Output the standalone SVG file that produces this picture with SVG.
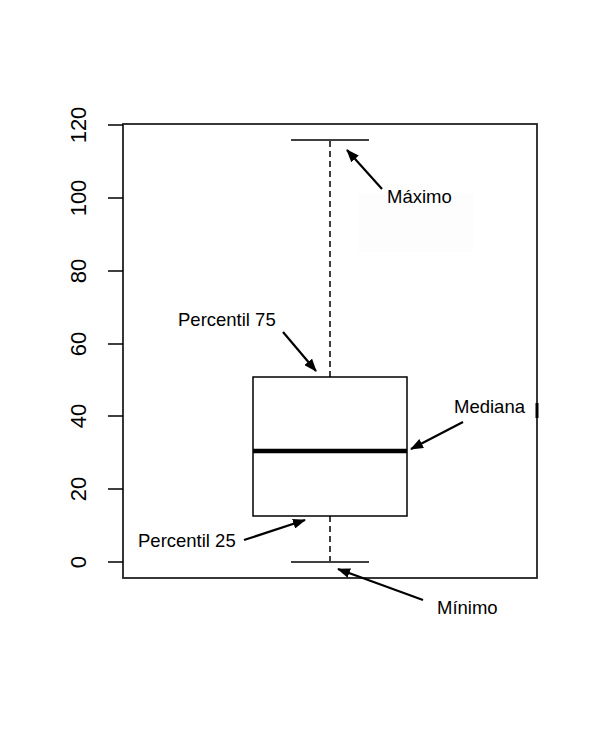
<svg xmlns="http://www.w3.org/2000/svg" width="600" height="732" viewBox="0 0 600 732">
<style>
.lbl{font-family:"Liberation Sans",Arial,sans-serif;font-size:18.5px;fill:#000}
.ax{font-family:"Liberation Sans",Arial,sans-serif;font-size:22px;fill:#000;text-anchor:middle}
.ln{stroke:#000;stroke-width:1.5;fill:none}
.arr{stroke:#000;stroke-width:2.2;fill:none;marker-end:url(#ah)}
</style>
<defs>
<marker id="ah" markerUnits="userSpaceOnUse" markerWidth="13" markerHeight="10" refX="12" refY="5" orient="auto">
<path d="M0,0 L13,5 L0,10 z" fill="#000"/>
</marker>
</defs>
<rect width="600" height="732" fill="#fff"/>
<rect x="358" y="193" width="115" height="59" fill="#fdfdfd"/>
<g id="axis">
<rect x="123" y="124" width="414" height="454" fill="none" stroke="#222" stroke-width="1.8"/>
<line x1="537" y1="403" x2="537" y2="418" stroke="#000" stroke-width="3"/>
<path class="ln" d="M108,125H123M108,198H123M108,271H123M108,344H123M108,416H123M108,489H123M108,562H123"/>
<text class="ax" transform="translate(86,125) rotate(-90)">120</text>
<text class="ax" transform="translate(86,198) rotate(-90)">100</text>
<text class="ax" transform="translate(86,271) rotate(-90)">80</text>
<text class="ax" transform="translate(86,344) rotate(-90)">60</text>
<text class="ax" transform="translate(86,416) rotate(-90)">40</text>
<text class="ax" transform="translate(86,489) rotate(-90)">20</text>
<text class="ax" transform="translate(86,562) rotate(-90)">0</text>
</g>
<g id="boxplot">
<line class="ln" x1="291" y1="140" x2="369" y2="140"/>
<line class="ln" x1="291" y1="562" x2="369" y2="562"/>
<line class="ln" x1="330" y1="141" x2="330" y2="377" stroke-dasharray="6,4"/>
<line class="ln" x1="330" y1="516" x2="330" y2="561" stroke-dasharray="6,4"/>
<rect class="ln" x="253" y="377" width="154" height="139"/>
<line x1="253" y1="451" x2="407" y2="451" stroke="#000" stroke-width="4.5"/>
</g>
<g id="connectors">
<line class="arr" x1="382" y1="189" x2="347" y2="150"/>
<line class="arr" x1="283" y1="332" x2="316" y2="371"/>
<line class="arr" x1="463" y1="422" x2="411" y2="449"/>
<line class="arr" x1="244" y1="540" x2="305" y2="520"/>
<line class="arr" x1="423" y1="600" x2="338" y2="569"/>
</g>
<g id="label-maximo"><text class="lbl" x="387" y="203">Máximo</text></g>
<g id="label-p75"><text class="lbl" x="178" y="326">Percentil 75</text></g>
<g id="label-mediana"><text class="lbl" x="454" y="413">Mediana</text></g>
<g id="label-p25"><text class="lbl" x="138" y="547">Percentil 25</text></g>
<g id="label-minimo"><text class="lbl" x="437" y="614">Mínimo</text></g>
</svg>
